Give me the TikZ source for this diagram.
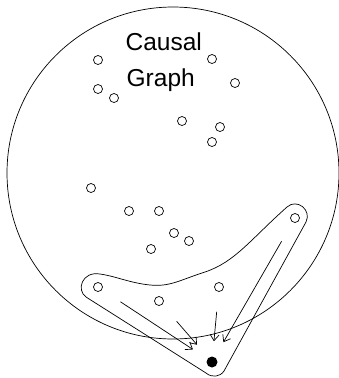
\documentclass[tikz,border=0pt]{standalone}
\usepackage{fontspec}
\setmainfont{Liberation Sans}
\usetikzlibrary{arrows.meta}

\begin{document}
\begin{tikzpicture}[
    x=1pt,
    y=-1pt,
    line width=0.7pt,
    font=\fontsize{24.5}{36}\selectfont,
    var/.style={
        draw=black,
        circle,
        inner sep=0pt,
        minimum size=9pt
    },
    target/.style={
        fill=black,
        circle,
        inner sep=0pt,
        minimum size=11pt
    },
    arr/.style={
        -{Straight Barb[length=6pt,width=9pt]},
        shorten <=22pt,
        shorten >=17pt
    }
]
\useasboundingbox (0,0) rectangle (339,378);

% the whole graph
\draw (173,173) circle (166);
\node[anchor=base west] (causal) at (122,50) {Causal};
\node[anchor=base west] (graph) at (123,86) {Graph};

% variables
\node[var] (v1) at (98,60) {};
\node[var] (v2) at (212,59) {};
\node[var] (v3) at (235,83) {};
\node[var] (v4) at (98,89) {};
\node[var] (v5) at (114,98) {};
\node[var] (v6) at (182,121) {};
\node[var] (v7) at (220,127) {};
\node[var] (v8) at (212,142) {};
\node[var] (v9) at (91,188) {};
\node[var] (v10) at (129,211) {};
\node[var] (v11) at (159,211) {};
\node[var] (v12) at (174,233) {};
\node[var] (v13) at (189,241) {};
\node[var] (v14) at (151,249) {};
\node[var] (v15) at (295,218) {};
\node[var] (v16) at (98,287) {};
\node[var] (v17) at (159,301) {};
\node[var] (v18) at (219,287) {};
\node[target] (y) at (212,362) {};

% parents of the target
\draw (86,297) -- (206,373)
    .. controls (212,378) and (220,377) .. (224,371)
    -- (306,222)
    .. controls (312,210) and (297,198) .. (287,207)
    .. controls (250,240) and (235,262) .. (205,272)
    .. controls (180,280) and (170,287) .. (150,285)
    .. controls (130,283) and (115,276) .. (100,274)
    .. controls (82,271) and (76,290) .. (86,297) -- cycle;

\draw[arr] (v16) -- (y);
\draw[arr] (v17) -- (y);
\draw[arr, shorten <=20pt, shorten >=15pt] (v18) -- (y);
\draw[arr] (v15) -- (y);

\end{tikzpicture}
\end{document}
